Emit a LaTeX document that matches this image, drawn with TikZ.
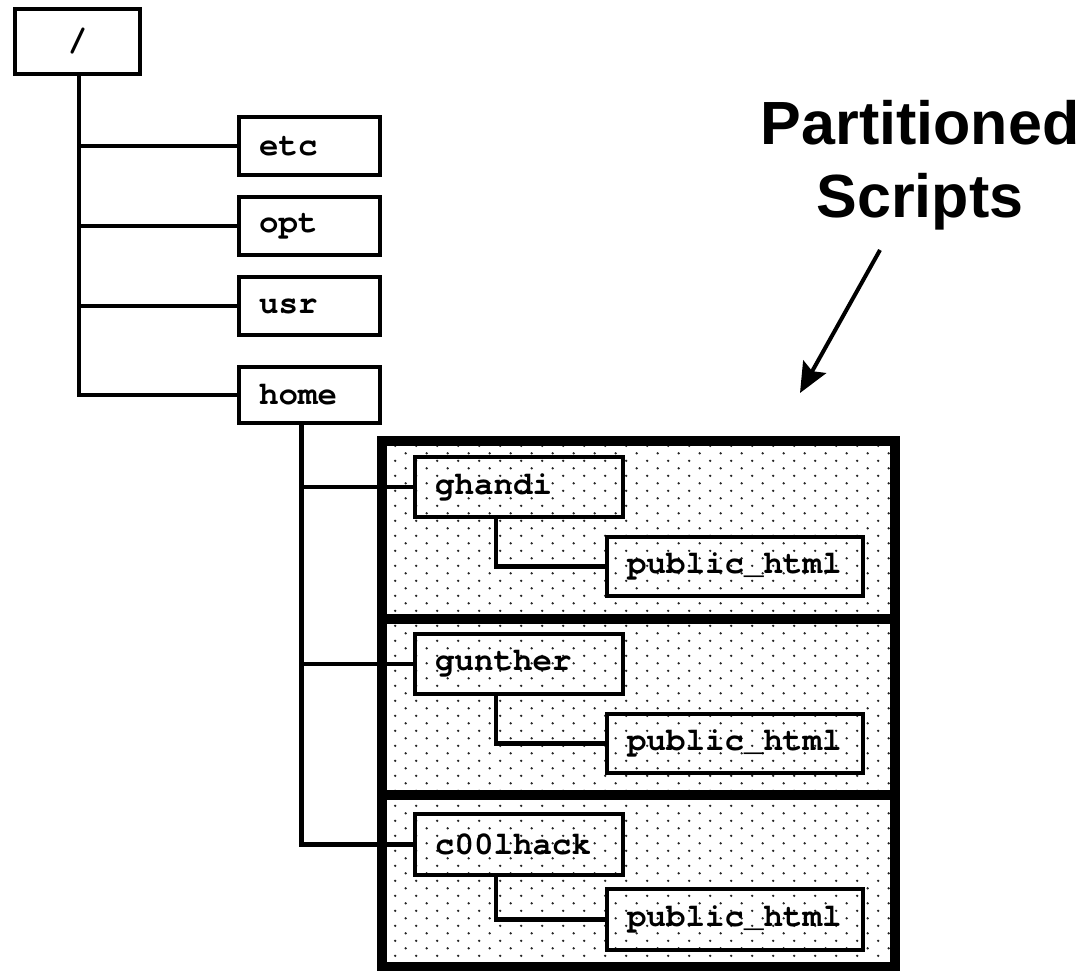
\documentclass[tikz,border=0pt]{standalone}
\usepackage{fontspec}
\setmonofont{TeX Gyre Cursor}
\setsansfont{Liberation Sans}
\usetikzlibrary{arrows.meta}
\begin{document}
\begin{tikzpicture}[x=1pt,y=-1pt,
  dir/.style={draw, line width=4pt, outer sep=0pt, inner xsep=20pt, inner ysep=0pt,
    anchor=north west, align=left,
    font=\ttfamily\bfseries\fontsize{32.5}{36}\selectfont},
  conn/.style={line width=4.5pt},
  frame/.style={line width=10pt},
  dotc/.style={fill=black!85},
  lbl/.style={anchor=base, font=\sffamily\bfseries\fontsize{61}{72}\selectfont}]
\useasboundingbox (0,0) rectangle (1090,971);
% stipple fill of the partition frame
\begin{scope}
  \clip (382,441) rectangle (895,967);
  \foreach \r in {0,...,72}{
    \pgfmathsetmacro{\yy}{438.3+7.5*\r}
    \pgfmathsetmacro{\xo}{384.7-10.5*mod(\r,2)}
    \foreach \m in {0,...,26}{
      \fill[dotc] ({\xo+21*\m},\yy) circle[radius=1.3];
    }
  }
\end{scope}
% directory boxes
\node[dir, align=center, text width=85pt, minimum height=65pt] (root) at (15,9) {/};
\node[dir, text width=101pt, minimum height=58pt] (etc) at (239,117) {etc};
\node[dir, text width=101pt, minimum height=58pt] (opt) at (239,197) {opt};
\node[dir, text width=101pt, minimum height=58pt] (usr) at (239,277) {usr};
\node[dir, text width=101pt, minimum height=56pt] (home) at (239,367) {home};
\node[dir, text width=168pt, minimum height=60pt] (ghandi) at (415,457) {ghandi};
\node[dir, text width=216pt, minimum height=59pt] (gpub) at (607,537) {public\_html};
\node[dir, text width=168pt, minimum height=60pt] (gunther) at (415,634) {gunther};
\node[dir, text width=216pt, minimum height=59pt] (gupub) at (607,714) {public\_html};
\node[dir, text width=168pt, minimum height=61pt] (cool) at (415,814) {c00lhack};
\node[dir, text width=216pt, minimum height=61pt] (cpub) at (607,889) {public\_html};
% connectors
\draw[conn] ([xshift=1.5]root.south) |- (etc.west);
\draw[conn] ([xshift=1.5]root.south) |- (opt.west);
\draw[conn] ([xshift=1.5]root.south) |- (usr.west);
\draw[conn] ([xshift=1.5]root.south) |- (home.west);
\draw[conn] ([xshift=-8]home.south) |- (ghandi.west);
\draw[conn] ([xshift=-8]home.south) |- (gunther.west);
\draw[conn] ([xshift=-8]home.south) |- (cool.west);
\draw[conn] ([xshift=-23]ghandi.south) |- (gpub.west);
\draw[conn] ([xshift=-23]gunther.south) |- (gupub.west);
\draw[conn] ([xshift=-23]cool.south) |- (cpub.west);
% partition frame
\draw[frame] (382,441) rectangle (895,619);
\draw[frame] (382,619) rectangle (895,795);
\draw[frame] (382,795) rectangle (895,967);
% label and arrow
\node[lbl] (lblA) at (920,145) {Partitioned};
\node[lbl] (lblB) at (920,217) {Scripts};
\coordinate (arrS) at (880,250);
\coordinate (arrE) at (800,393);
\draw[line width=4pt, -{Stealth[length=30pt,width=26pt,inset=5pt]}] (arrS) -- (arrE);
\end{tikzpicture}
\end{document}
